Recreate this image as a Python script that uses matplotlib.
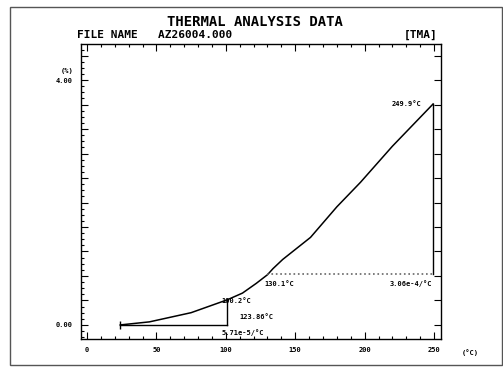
import matplotlib

matplotlib.use('Agg')
import matplotlib.pyplot as plt
from matplotlib.ticker import MultipleLocator, FuncFormatter
from matplotlib.patches import Rectangle

# curve: temperature (C) vs expansion (%)
temp = [24, 45, 75, 101, 112, 122, 130, 134, 141, 161, 180, 197, 220, 249.3]
expansion = [0.0, 0.05, 0.2, 0.41, 0.52, 0.68, 0.82, 0.92, 1.07, 1.43, 1.93, 2.33, 2.92, 3.61]

# tangent / cursor construction lines
low_t = [24, 101]
low_y = 0.0
low_top = 0.40
high_t = [130, 249.3]
high_y = 0.84
high_top = 3.61

labels = [
    ("249.9°C", 241, 3.61, 'right'),
    ("100.2°C", 97, 0.39, 'left'),
    ("123.86°C", 110, 0.13, 'left'),
    ("5.71e-5/°C", 97, -0.13, 'left'),
    ("130.1°C", 128, 0.67, 'left'),
    ("3.06e-4/°C", 248.5, 0.67, 'right'),
]

mono = 'DejaVu Sans Mono'

fig = plt.figure(figsize=(5.03, 3.67), dpi=100)
fig.patches.append(Rectangle((10 / 503, 2 / 367), 492 / 503, 358 / 367,
                             transform=fig.transFigure, fill=False,
                             edgecolor='#555555', lw=1.0))

ax = fig.add_axes([81 / 503, 1 - 339 / 367, 360 / 503, 295 / 367])
ax.set_xlim(-4.3, 255)
ax.set_ylim(-0.23, 4.59)

ax.plot(temp, expansion, color='black', lw=1.1)
ax.plot(low_t, [low_y, low_y], color='black', lw=1.0, marker='|', markevery=[0], ms=6)
ax.plot([low_t[1], low_t[1]], [low_y, low_top], color='black', lw=1.0)
ax.plot(high_t, [high_y, high_y], color='#666666', lw=1.2, ls=':')
ax.plot([high_t[1], high_t[1]], [high_y, high_top], color='black', lw=1.0)

for txt, x, y, ha in labels:
    ax.text(x, y, txt, ha=ha, va='center', fontsize=5, family=mono, fontweight='bold')

ax.xaxis.set_major_locator(MultipleLocator(50))
ax.xaxis.set_minor_locator(MultipleLocator(10))
ax.yaxis.set_major_locator(MultipleLocator(0.4))
ax.yaxis.set_minor_locator(MultipleLocator(0.1))
ax.yaxis.set_major_formatter(FuncFormatter(
    lambda v, p: '%.2f' % v if abs(v) < 1e-6 or abs(v - 4.0) < 1e-6 else ''))
ax.tick_params(which='both', direction='in', top=True, right=True, width=0.8)
ax.tick_params(which='major', length=5, labelsize=5, pad=6)
ax.tick_params(which='minor', length=2.5)
ax.tick_params(axis='y', which='minor', right=False)
for lab in ax.get_xticklabels() + ax.get_yticklabels():
    lab.set_family(mono)
    lab.set_fontweight('bold')
for sp in ax.spines.values():
    sp.set_linewidth(1.0)

fig.text(74 / 503, 1 - 71 / 367, '(%)', ha='right', va='center',
         fontsize=5, family=mono, fontweight='bold')
ax.text(1.08, -0.035, '(°C)', transform=ax.transAxes, ha='center', va='top',
        fontsize=5, family=mono, fontweight='bold')

fig.text(255 / 503, 1 - 22 / 367, 'THERMAL ANALYSIS DATA', ha='center', va='center',
         fontsize=10, family=mono, fontweight='bold')
fig.text(77 / 503, 1 - 35 / 367, 'FILE NAME   AZ26004.000', ha='left', va='center',
         fontsize=8, family=mono, fontweight='bold')
fig.text(438 / 503, 1 - 35 / 367, '[TMA]', ha='right', va='center',
         fontsize=8, family=mono, fontweight='bold')

fig.savefig('out.png', dpi=100)
